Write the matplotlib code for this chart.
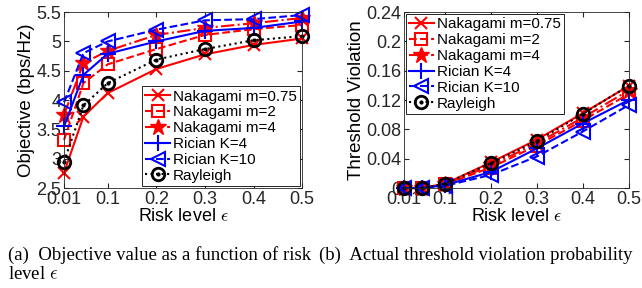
import matplotlib
matplotlib.use('Agg')
import matplotlib.pyplot as plt
import numpy as np

plt.rcParams['font.family'] = ['Liberation Sans', 'DejaVu Sans']
plt.rcParams['mathtext.fontset'] = 'cm'

risk = [0.01, 0.05, 0.1, 0.2, 0.3, 0.4, 0.5]

# objective value (bps/Hz)
obj_nak075 = [2.76, 3.72, 4.12, 4.53, 4.78, 4.94, 5.05]
obj_nak2 = [3.32, 4.29, 4.61, 4.87, 5.11, 5.21, 5.28]
obj_nak4 = [3.75, 4.63, 4.84, 5.11, 5.23, 5.31, 5.40]
obj_ric4 = [3.55, 4.43, 4.79, 5.00, 5.18, 5.23, 5.34]
obj_ric10 = [3.96, 4.80, 5.00, 5.20, 5.36, 5.38, 5.45]
obj_ray = [2.95, 3.91, 4.29, 4.69, 4.87, 5.02, 5.09]

# threshold violation probability
vio_nak075 = [0.0, 0.0, 0.006, 0.035, 0.066, 0.102, 0.139]
vio_nak2 = [0.0, 0.0, 0.005, 0.028, 0.058, 0.092, 0.128]
vio_nak4 = [0.0, 0.0, 0.005, 0.031, 0.061, 0.096, 0.133]
vio_ric4 = [0.0, 0.0, 0.004, 0.022, 0.054, 0.088, 0.120]
vio_ric10 = [0.0, 0.0, 0.003, 0.018, 0.043, 0.077, 0.113]
vio_ray = [0.0, 0.0, 0.006, 0.034, 0.064, 0.101, 0.1395]

labels = ['Nakagami m=0.75', 'Nakagami m=2', 'Nakagami m=4',
          'Rician K=4', 'Rician K=10', 'Rayleigh']
xtick_vals = [0.01, 0.1, 0.2, 0.3, 0.4, 0.5]
xtick_labels = ['0.01', '0.1', '0.2', '0.3', '0.4', '0.5']

styles = [
    dict(color='red', ls='-', marker='x', ms=8, mew=1.5, mfc='none'),
    dict(color='red', ls='--', marker='s', ms=8, mew=1.5, mfc='none'),
    dict(color='red', ls='-.', marker='*', ms=12, mew=1.0),
    dict(color='blue', ls='-', marker='+', ms=11, mew=1.5),
    dict(color='blue', ls='--', marker='<', ms=10, mew=1.5, mfc='none'),
    dict(color='black', ls=':', marker='o', ms=9, mew=2.0, mfc='none'),
]

fig = plt.figure(figsize=(6.42, 2.88), dpi=100)
ax1 = fig.add_axes([0.0997, 0.347, 0.371, 0.611])
ax2 = fig.add_axes([0.629, 0.347, 0.350, 0.611])


def draw(ax, series):
    handles = []
    for ys, st in zip(series, styles):
        ln, = ax.plot(risk, ys, lw=1.5, clip_on=False, **st)
        if st['marker'] == 'o':
            dot, = ax.plot(risk, ys, ls='none', marker='.', ms=4, color='black',
                           clip_on=False)
            handles.append((ln, dot))
        else:
            handles.append(ln)
    ax.set_xlim(0.01, 0.5)
    ax.set_xticks(xtick_vals)
    ax.set_xticklabels(xtick_labels)
    ax.tick_params(direction='in', top=True, right=True, labelsize=13,
                   colors='#262626', length=3.5, pad=2)
    for s in ax.spines.values():
        s.set_color('#262626')
        s.set_linewidth(0.6)
    ax.set_xlabel(r'Risk level $\epsilon$', fontsize=13, labelpad=0)
    return handles


h1 = draw(ax1, [obj_nak075, obj_nak2, obj_nak4, obj_ric4, obj_ric10, obj_ray])
ax1.set_ylim(2.5, 5.5)
ax1.set_yticks(np.arange(2.5, 5.51, 0.5))
ax1.set_yticklabels(['2.5', '3', '3.5', '4', '4.5', '5', '5.5'])
ax1.set_ylabel('Objective (bps/Hz)', fontsize=13.5, labelpad=1)
leg1 = ax1.legend(h1, labels, loc='lower right', fontsize=11, labelspacing=0.12,
                  handlelength=1.6, handletextpad=0.2, borderpad=0.2,
                  borderaxespad=0.15, fancybox=False, framealpha=1,
                  edgecolor='black')
leg1.get_frame().set_linewidth(0.6)
leg1.set_zorder(5)

h2 = draw(ax2, [vio_nak075, vio_nak2, vio_nak4, vio_ric4, vio_ric10, vio_ray])
ax2.set_ylim(0, 0.24)
ax2.set_yticks(np.arange(0, 0.241, 0.04))
ax2.set_yticklabels(['0', '0.04', '0.08', '0.12', '0.16', '0.2', '0.24'])
ax2.set_ylabel('Threshold Violation', fontsize=13.5, labelpad=1)
leg2 = ax2.legend(h2, labels, loc='upper left', fontsize=11, labelspacing=0.12,
                  handlelength=1.6, handletextpad=0.2, borderpad=0.2,
                  borderaxespad=0.15, fancybox=False, framealpha=1,
                  edgecolor='black')
leg2.get_frame().set_linewidth(0.6)
leg2.set_zorder(5)

cap = dict(family=['Liberation Serif', 'DejaVu Serif'], fontsize=13.5, va='baseline')
fig.text(0.012, 0.098, '(a)  Objective value as a function of risk', **cap)
fig.text(0.012, 0.032, r'level $\epsilon$', **cap)
fig.text(0.497, 0.098, '(b)  Actual threshold violation probability', **cap)

fig.savefig('out.png', dpi=100)
